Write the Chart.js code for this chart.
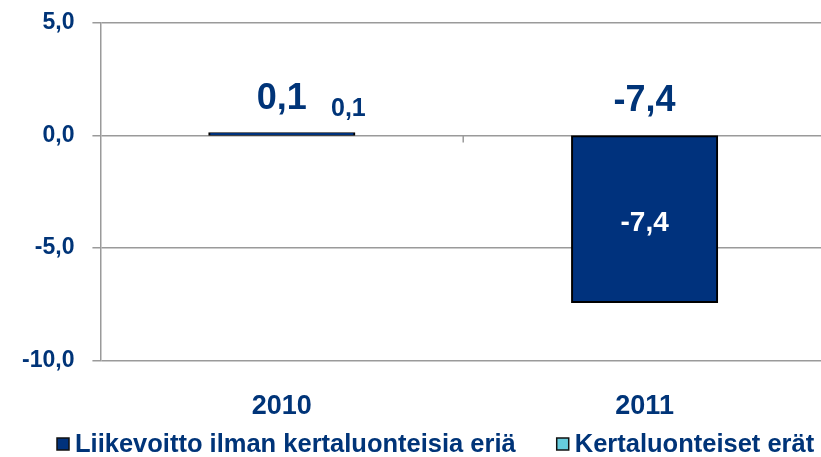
<!DOCTYPE html>
<html>
<head>
<meta charset="utf-8">
<script src="https://cdn.jsdelivr.net/npm/chart.js@4/dist/chart.umd.min.js"></script>
<style>
  html, body { margin: 0; padding: 0; background: #fff; overflow: hidden; }
  #wrap { width: 826px; height: 457px; position: relative; }
</style>
</head>
<body>
<div id="wrap"><canvas id="tulosChart"></canvas></div>
<script>
// tiedot
const vuodet = ['2010', '2011'];
const liikevoitto = [0.1, -7.4];
const kertaerat = [0, 0];
const yTicks = [5, 0, -5, -10];

const navy = '#003478';
const fontFam = "'Liberation Sans', Arial, sans-serif";

function fi(v) {
    return v.toFixed(1).replace('.', ',');
}

// arvot pylväisiin ja summat yläpuolelle
const labelPlugin = {
    id: 'labels',
    afterDatasetsDraw(chart) {
        const ctx = chart.ctx;
        const y = chart.scales.y;
        const meta = chart.getDatasetMeta(0);
        const y0 = y.getPixelForValue(0);

        // pienet jakoviivat nollatasolla
        ctx.save();
        ctx.strokeStyle = '#9a9a9a';
        ctx.lineWidth = 1.5;
        const step = (chart.chartArea.right - chart.chartArea.left) / vuodet.length;
        for (let i = 1; i < vuodet.length; i++) {
            const px = chart.chartArea.left + step * i;
            ctx.beginPath();
            ctx.moveTo(px, y0);
            ctx.lineTo(px, y0 + 7);
            ctx.stroke();
        }
        ctx.restore();

        ctx.save();
        ctx.textAlign = 'center';
        ctx.textBaseline = 'middle';
        meta.data.forEach((bar, i) => {
            const v = liikevoitto[i];
            const total = liikevoitto[i] + kertaerat[i];
            const top = y.getPixelForValue(Math.max(total, 0));
            const h = Math.abs(bar.base - bar.y);

            // summa
            ctx.fillStyle = navy;
            ctx.font = 'bold 36px ' + fontFam;
            ctx.fillText(fi(total), bar.x, top - 34);

            // sarjan arvo
            if (h > 30) {
                ctx.fillStyle = '#ffffff';
                ctx.font = 'bold 28px ' + fontFam;
                ctx.fillText(fi(v), bar.x, (bar.y + bar.base) / 2 + 4);
            } else {
                ctx.fillStyle = navy;
                ctx.font = 'bold 25px ' + fontFam;
                ctx.fillText(fi(v), bar.x + bar.width / 2 - 6, Math.min(bar.y, bar.base) - 24);
            }
        });
        ctx.restore();
    }
};

// selite alareunaan
const legendPlugin = {
    id: 'selite',
    afterDraw(chart) {
        const ctx = chart.ctx;
        ctx.save();
        ctx.font = 'bold 25.5px ' + fontFam;
        ctx.textBaseline = 'middle';
        ctx.textAlign = 'left';
        let x = 57;
        const yMid = 444;
        chart.data.datasets.forEach(ds => {
            ctx.fillStyle = ds.backgroundColor;
            ctx.fillRect(x, yMid - 6, 12, 12);
            ctx.strokeStyle = '#111111';
            ctx.lineWidth = 1.5;
            ctx.strokeRect(x, yMid - 6, 12, 12);
            ctx.fillStyle = navy;
            ctx.fillText(ds.label, x + 18, yMid + 1);
            x += 18 + ctx.measureText(ds.label).width + 41;
        });
        ctx.restore();
    }
};

const ctx = document.getElementById('tulosChart');
new Chart(ctx, {
    type: 'bar',
    data: {
        labels: vuodet,
        datasets: [{
            label: 'Liikevoitto ilman kertaluonteisia eriä',
            data: liikevoitto,
            backgroundColor: '#00327d',
            borderColor: '#000000',
            borderWidth: 2,
            borderSkipped: false,
            inflateAmount: 1,
            barPercentage: 0.5,
            categoryPercentage: 0.8
        }, {
            label: 'Kertaluonteiset erät',
            data: kertaerat,
            backgroundColor: '#66ccdd',
            borderColor: '#111111',
            borderWidth: 0,
            barPercentage: 0.5,
            categoryPercentage: 0.8
        }]
    },
    options: {
        responsive: true,
        maintainAspectRatio: false,
        animation: false,
        layout: {
            padding: { left: 4, top: 23, right: 0, bottom: 12 }
        },
        plugins: {
            legend: { display: false },
            tooltip: { enabled: false }
        },
        scales: {
            x: {
                stacked: true,
                grid: { display: false },
                border: { display: false },
                ticks: {
                    color: navy,
                    padding: 22,
                    font: { family: fontFam, size: 27, weight: 'bold' }
                }
            },
            y: {
                stacked: true,
                min: -10,
                max: 5,
                afterBuildTicks: axis => {
                    axis.ticks = yTicks.map(v => ({ value: v }));
                },
                afterFit: axis => {
                    axis.paddingTop = 0;
                    axis.paddingBottom = 0;
                },
                grid: {
                    color: '#9a9a9a',
                    lineWidth: 1.5,
                    tickLength: 8
                },
                border: { color: '#9a9a9a', width: 1.5 },
                ticks: {
                    color: navy,
                    padding: 18,
                    font: { family: fontFam, size: 23, weight: 'bold' },
                    callback: value => fi(value)
                }
            }
        }
    },
    plugins: [labelPlugin, legendPlugin]
});
</script>
</body>
</html>
